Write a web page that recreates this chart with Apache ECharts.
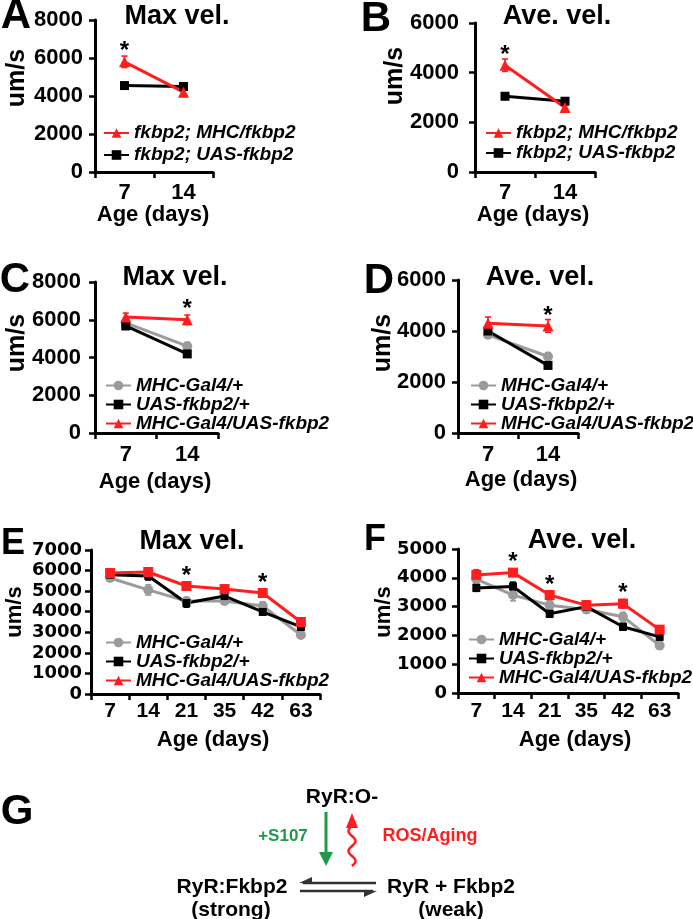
<!DOCTYPE html>
<html><head><meta charset="utf-8">
<script src="https://cdn.jsdelivr.net/npm/echarts@6/dist/echarts.min.js"></script>
<style>html,body{margin:0;padding:0;background:#fff}#main{width:693px;height:919px}</style>
</head><body><div id="main"></div>
<script>
// ---------------- data ----------------
const agesShort = ['7', '14'];
const agesLong = ['7', '14', '21', '35', '42', '63'];

const nameRescue = 'fkbp2; MHC/fkbp2';
const nameRescueCtrl = 'fkbp2; UAS-fkbp2';
const nameGal4 = 'MHC-Gal4/+';
const nameUas = 'UAS-fkbp2/+';
const nameOver = 'MHC-Gal4/UAS-fkbp2';

// Panel A - Max vel. (um/s)
const aRescue = [5800, 4200];
const aRescueErr = [300, 120];
const aRescueStar = [1, 0];
const aCtrl = [4550, 4500];
const aCtrlErr = [100, 120];

// Panel B - Ave. vel.
const bRescue = [4300, 2600];
const bRescueErr = [250, 100];
const bRescueStar = [1, 0];
const bCtrl = [3050, 2850];
const bCtrlErr = [100, 100];

// Panel C - Max vel.
const cGal4 = [5830, 4600];
const cGal4Err = [150, 200];
const cUas = [5670, 4190];
const cUasErr = [120, 150];
const cOver = [6150, 6000];
const cOverErr = [200, 250];
const cOverStar = [0, 1];

// Panel D - Ave. vel.
const dGal4 = [3850, 3000];
const dGal4Err = [120, 150];
const dUas = [4000, 2650];
const dUasErr = [100, 120];
const dOver = [4300, 4200];
const dOverErr = [250, 250];
const dOverStar = [0, 1];

// Panel E - Max vel.
const eGal4 = [5640, 5060, 4520, 4520, 4280, 2870];
const eGal4Err = [150, 250, 150, 150, 200, 150];
const eUas = [5800, 5740, 4420, 4760, 3990, 3260];
const eUasErr = [150, 200, 200, 200, 150, 150];
const eOver = [5880, 5930, 5250, 5100, 4910, 3500];
const eOverErr = [200, 150, 150, 200, 150, 150];
const eOverStar = [0, 0, 1, 0, 1, 0];

// Panel F - Ave. vel.
const fGal4 = [3950, 3400, 3050, 2900, 2650, 1650];
const fGal4Err = [150, 200, 150, 120, 150, 120];
const fUas = [3650, 3700, 2750, 3000, 2300, 1950];
const fUasErr = [120, 150, 120, 150, 120, 120];
const fOver = [4100, 4180, 3400, 3050, 3100, 2200];
const fOverErr = [180, 120, 150, 150, 150, 120];
const fOverStar = [0, 1, 1, 0, 1, 0];

// ---------------- styling / layout ----------------
const FONT = "'Liberation Sans', Arial, Helvetica, sans-serif";
const FONT_WIDE = "'DejaVu Sans', 'Liberation Sans', sans-serif";
const RED = '#ff1e1e', BLACK = '#000000', GRAY = '#9b9b9b', GREEN = '#1f9a4a';

const panels = [
  { letter: 'A', title: 'Max vel.', cats: agesShort, yMax: 8000, yStep: 2000,
    grid: { left: 95, top: 20, width: 118, height: 152 },
    yFont: FONT, yFontSize: 22, yMargin: 12, xFontSize: 22, xMargin: 10,
    letterPos: [16, 16, 42], titlePos: [177, 17], yNamePos: [17, 78, 25], xNamePos: [153, 215],
    legend: { left: 103, top: 122, lineHeight: 22, names: [nameRescue, nameRescueCtrl] },
    series: [
      { name: nameRescueCtrl, data: aCtrl, err: aCtrlErr, color: BLACK, symbol: 'rect', size: 9 },
      { name: nameRescue, data: aRescue, err: aRescueErr, stars: aRescueStar, color: RED, symbol: 'triangle', size: 11 }
    ] },
  { letter: 'B', title: 'Ave. vel.', cats: agesShort, yMax: 6000, yStep: 2000,
    grid: { left: 475, top: 23, width: 120, height: 149 },
    yFont: FONT, yFontSize: 22, yMargin: 16, xFontSize: 22, xMargin: 10,
    letterPos: [376, 19, 42], titlePos: [557, 17], yNamePos: [395, 76, 25], xNamePos: [533, 215],
    legend: { left: 485, top: 123, lineHeight: 20, names: [nameRescue, nameRescueCtrl] },
    series: [
      { name: nameRescueCtrl, data: bCtrl, err: bCtrlErr, color: BLACK, symbol: 'rect', size: 9 },
      { name: nameRescue, data: bRescue, err: bRescueErr, stars: bRescueStar, color: RED, symbol: 'triangle', size: 11 }
    ] },
  { letter: 'C', title: 'Max vel.', cats: agesShort, yMax: 8000, yStep: 2000,
    grid: { left: 95, top: 282, width: 123, height: 151 },
    yFont: FONT, yFontSize: 22, yMargin: 14, xFontSize: 22, xMargin: 11,
    letterPos: [15, 280, 42], titlePos: [175, 278], yNamePos: [17, 343, 25], xNamePos: [155, 482],
    legend: { left: 105, top: 376, lineHeight: 18, names: [nameGal4, nameUas, nameOver] },
    series: [
      { name: nameGal4, data: cGal4, err: cGal4Err, color: GRAY, symbol: 'circle', size: 10 },
      { name: nameUas, data: cUas, err: cUasErr, color: BLACK, symbol: 'rect', size: 9 },
      { name: nameOver, data: cOver, err: cOverErr, stars: cOverStar, color: RED, symbol: 'triangle', size: 11 }
    ] },
  { letter: 'D', title: 'Ave. vel.', cats: agesShort, yMax: 6000, yStep: 2000,
    grid: { left: 458, top: 280, width: 120, height: 153 },
    yFont: FONT, yFontSize: 22, yMargin: 12, xFontSize: 22, xMargin: 11,
    letterPos: [379, 281, 42], titlePos: [540, 278], yNamePos: [383, 343, 25], xNamePos: [521, 480],
    legend: { left: 470, top: 376, lineHeight: 18, names: [nameGal4, nameUas, nameOver] },
    series: [
      { name: nameGal4, data: dGal4, err: dGal4Err, color: GRAY, symbol: 'circle', size: 10 },
      { name: nameUas, data: dUas, err: dUasErr, color: BLACK, symbol: 'rect', size: 9 },
      { name: nameOver, data: dOver, err: dOverErr, stars: dOverStar, color: RED, symbol: 'triangle', size: 11 }
    ] },
  { letter: 'E', title: 'Max vel.', cats: agesLong, yMax: 7000, yStep: 1000,
    grid: { left: 91, top: 550, width: 229, height: 144 },
    yFont: FONT_WIDE, yFontSize: 18, yMargin: 9, xFontSize: 21, xMargin: 7,
    letterPos: [13, 544, 36], titlePos: [192, 542], yNamePos: [15, 612, 22], xNamePos: [213, 740],
    legend: { left: 105, top: 633, lineHeight: 17, names: [nameGal4, nameUas, nameOver] },
    series: [
      { name: nameGal4, data: eGal4, err: eGal4Err, color: GRAY, symbol: 'circle', size: 10 },
      { name: nameUas, data: eUas, err: eUasErr, color: BLACK, symbol: 'rect', size: 8 },
      { name: nameOver, data: eOver, err: eOverErr, stars: eOverStar, color: RED, symbol: 'rect', size: 10 }
    ] },
  { letter: 'F', title: 'Ave. vel.', cats: agesLong, yMax: 5000, yStep: 1000,
    grid: { left: 458, top: 549, width: 220, height: 144 },
    yFont: FONT_WIDE, yFontSize: 18, yMargin: 11, xFontSize: 21, xMargin: 8,
    letterPos: [375, 540, 36], titlePos: [582, 541], yNamePos: [384, 612, 22], xNamePos: [575, 740],
    legend: { left: 468, top: 630, lineHeight: 17, names: [nameGal4, nameUas, nameOver] },
    series: [
      { name: nameGal4, data: fGal4, err: fGal4Err, color: GRAY, symbol: 'circle', size: 10 },
      { name: nameUas, data: fUas, err: fUasErr, color: BLACK, symbol: 'rect', size: 8 },
      { name: nameOver, data: fOver, err: fOverErr, stars: fOverStar, color: RED, symbol: 'rect', size: 10 }
    ] }
];

function makeErr(color) {
  return function (params, api) {
    const i = api.value(0), v = api.value(1), e = api.value(2);
    const hi = api.coord([i, v + e]);
    const lo = api.coord([i, v - e]);
    const w = 3;
    const st = { stroke: color, lineWidth: 1.6 };
    return { type: 'group', children: [
      { type: 'line', shape: { x1: hi[0], y1: hi[1], x2: lo[0], y2: lo[1] }, style: st },
      { type: 'line', shape: { x1: hi[0] - w, y1: hi[1], x2: hi[0] + w, y2: hi[1] }, style: st },
      { type: 'line', shape: { x1: lo[0] - w, y1: lo[1], x2: lo[0] + w, y2: lo[1] }, style: st }
    ] };
  };
}

function txt(text, x, y, size, opts) {
  opts = opts || {};
  return {
    type: 'text', x: x, y: y, rotation: opts.rotation || 0, silent: true, z: 50,
    style: {
      text: text, fill: opts.color || '#000',
      font: (opts.italic ? 'italic ' : '') + 'bold ' + size + 'px ' + (opts.family || FONT),
      textAlign: 'center', textVerticalAlign: 'middle', align: 'center', verticalAlign: 'middle'
    }
  };
}

const grids = [], xAxes = [], yAxes = [], series = [], legends = [], graphics = [];
panels.forEach((p, pi) => {
  grids.push(Object.assign({ containLabel: false, outerBoundsMode: 'none' }, p.grid));
  xAxes.push({
    type: 'category', gridIndex: pi, data: p.cats, boundaryGap: true,
    axisLine: { show: true, lineStyle: { color: '#000', width: 3 } },
    axisTick: { show: true, inside: false, length: 6, lineStyle: { color: '#000', width: 2.5 } },
    axisLabel: { color: '#000', fontFamily: FONT, fontWeight: 'bold', fontSize: p.xFontSize, margin: p.xMargin, interval: 0 },
    splitLine: { show: false }
  });
  yAxes.push({
    type: 'value', gridIndex: pi, min: 0, max: p.yMax, interval: p.yStep,
    axisLine: { show: true, lineStyle: { color: '#000', width: 3 } },
    axisTick: { show: true, inside: false, length: 6, lineStyle: { color: '#000', width: 2.5 } },
    axisLabel: { color: '#000', fontFamily: p.yFont, fontWeight: 'bold', fontSize: p.yFontSize, margin: p.yMargin,
      formatter: v => String(v) },
    splitLine: { show: false }
  });
  p.series.forEach(s => {
    series.push({
      type: 'custom', xAxisIndex: pi, yAxisIndex: pi, silent: true, z: 1,
      renderItem: makeErr(s.color), encode: { x: 0, y: 1 },
      data: s.data.map((v, i) => [i, v, s.err[i]])
    });
  });
  p.series.forEach(s => {
    series.push({
      type: 'line', name: s.name, xAxisIndex: pi, yAxisIndex: pi, z: 3,
      symbol: s.symbol, symbolSize: s.size, showSymbol: true,
      lineStyle: { color: s.color, width: 3 }, itemStyle: { color: s.color },
      emphasis: { disabled: true },
      data: s.data.map((v, i) => (s.stars && s.stars[i]) ? {
        value: v,
        label: { show: true, formatter: '*', position: 'inside', offset: [0, -10],
          color: '#000', fontFamily: FONT, fontSize: 24, fontWeight: 'bold' }
      } : v)
    });
  });
  legends.push({
    show: true, orient: 'vertical', left: p.legend.left, top: p.legend.top,
    data: p.legend.names, selectedMode: false, itemGap: 0, itemWidth: 25, itemHeight: 12,
    padding: 0,
    textStyle: { color: '#000', fontFamily: FONT, fontSize: 19, fontWeight: 'bold', fontStyle: 'italic',
      lineHeight: p.legend.lineHeight }
  });
  graphics.push(txt(p.letter, p.letterPos[0], p.letterPos[1], p.letterPos[2]));
  graphics.push(txt(p.title, p.titlePos[0], p.titlePos[1], 27));
  graphics.push(txt('um/s', p.yNamePos[0], p.yNamePos[1], p.yNamePos[2], { rotation: Math.PI / 2 }));
  graphics.push(txt('Age (days)', p.xNamePos[0], p.xNamePos[1], 22));
});

// ---------------- panel G diagram ----------------
graphics.push(txt('G', 17, 812, 42));
graphics.push(txt('RyR:O-', 342, 797, 21));
graphics.push(txt('+S107', 283, 836, 17, { color: GREEN }));
graphics.push(txt('ROS/Aging', 430, 836, 18, { color: RED }));
graphics.push(txt('RyR:Fkbp2', 232, 887, 21));
graphics.push(txt('(strong)', 231, 910, 21));
graphics.push(txt('RyR + Fkbp2', 451, 887, 21));
graphics.push(txt('(weak)', 451, 910, 21));
// green arrow (down)
graphics.push({ type: 'line', silent: true, shape: { x1: 326, y1: 812, x2: 326, y2: 853 }, style: { stroke: GREEN, lineWidth: 3 } });
graphics.push({ type: 'polygon', silent: true, shape: { points: [[319, 852], [333, 852], [326, 866]] }, style: { fill: GREEN } });
// red wavy arrow (up)
const wavePts = [];
for (let t = 0; t <= 40; t += 1) {
  wavePts.push([352 + 3.5 * Math.sin(t * Math.PI / 10), 866 - t]);
}
graphics.push({ type: 'polyline', silent: true, shape: { points: wavePts },
  style: { stroke: RED, lineWidth: 2.5, fill: null } });
graphics.push({ type: 'polygon', silent: true, shape: { points: [[346, 828], [358, 828], [352, 813]] }, style: { fill: RED } });
// equilibrium harpoons
graphics.push({ type: 'line', silent: true, shape: { x1: 303, y1: 883, x2: 376, y2: 883 }, style: { stroke: '#333', lineWidth: 2.5 } });
graphics.push({ type: 'polygon', silent: true, shape: { points: [[299, 883], [312, 877], [312, 884]] }, style: { fill: '#333' } });
graphics.push({ type: 'line', silent: true, shape: { x1: 300, y1: 891, x2: 373, y2: 891 }, style: { stroke: '#333', lineWidth: 2.5 } });
graphics.push({ type: 'polygon', silent: true, shape: { points: [[377, 891], [364, 897], [364, 890]] }, style: { fill: '#333' } });

const chart = echarts.init(document.getElementById('main'), null, { renderer: 'canvas' });
chart.setOption({
  animation: false,
  backgroundColor: '#fff',
  grid: grids, xAxis: xAxes, yAxis: yAxes, series: series, legend: legends,
  graphic: { elements: graphics }
});
</script>
</body></html>
